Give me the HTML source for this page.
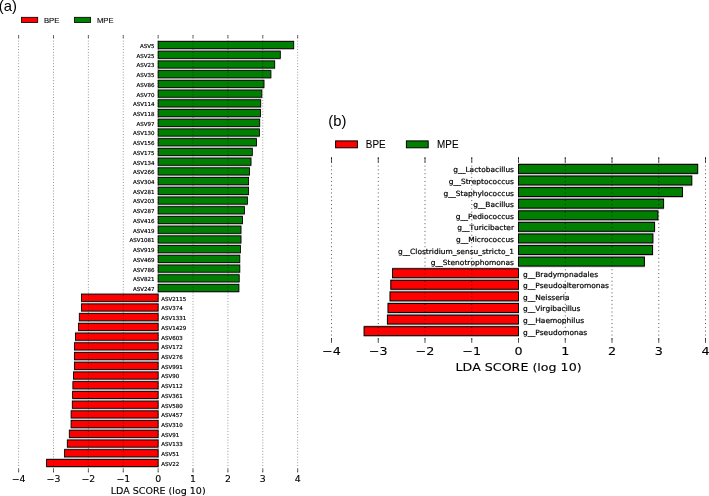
<!DOCTYPE html>
<html lang="en"><head><meta charset="utf-8"><title>LEfSe LDA score plots</title>
<style>
html,body{margin:0;padding:0;background:#fff;}
body{width:709px;height:496px;overflow:hidden;}
svg{display:block;}
text{fill:#000;font-kerning:none !important;font-variant-ligatures:none !important;font-feature-settings:"kern" 0 !important;}
.al{font:5.5px "DejaVu Sans","Liberation Sans",sans-serif;dominant-baseline:central;stroke:#000;stroke-width:0.18px;}
.at{font:8.0px "DejaVu Sans","Liberation Sans",sans-serif;stroke:#000;stroke-width:0.1px;}
.ax{font:8.0px "DejaVu Sans","Liberation Sans",sans-serif;stroke:#000;stroke-width:0.1px;}
.bl{font:7.2px "DejaVu Sans","Liberation Sans",sans-serif;dominant-baseline:central;stroke:#000;stroke-width:0.2px;}
.bt{font:10.9px "DejaVu Sans","Liberation Sans",sans-serif;stroke:#000;stroke-width:0.12px;}
.bx{font:10.9px "DejaVu Sans","Liberation Sans",sans-serif;stroke:#000;stroke-width:0.12px;}
.pl{font:14.8px "Liberation Sans",sans-serif;}
.la{font:7.8px "Liberation Sans",sans-serif;stroke:#000;stroke-width:0.1px;}
.lb{font:10.3px "Liberation Sans",sans-serif;stroke:#000;stroke-width:0.1px;}
</style></head>
<body>
<svg width="709" height="496" viewBox="0 0 709 496">
<rect x="0" y="0" width="709" height="496" fill="#fff"/>
<text x="-1.2" y="10.8" class="pl">(a)</text>
<rect x="21.5" y="17.3" width="16.2" height="5.3" fill="#ff0000" stroke="#000" stroke-width="0.8"/>
<text transform="translate(43.9 22.65) scale(0.99 1)" class="la">BPE</text>
<rect x="74.4" y="17.3" width="16.2" height="5.3" fill="#008000" stroke="#000" stroke-width="0.8"/>
<text transform="translate(96.9 22.65) scale(0.99 1)" class="la">MPE</text>
<rect x="157.75" y="40.19" width="136.35" height="9.72" fill="#cabeca"/>
<rect x="157.75" y="49.91" width="122.95" height="9.72" fill="#cabeca"/>
<rect x="157.75" y="59.63" width="117.35" height="9.72" fill="#cabeca"/>
<rect x="157.75" y="69.35" width="113.55" height="9.72" fill="#cabeca"/>
<rect x="157.75" y="79.07" width="106.65" height="9.72" fill="#cabeca"/>
<rect x="157.75" y="88.79" width="104.45" height="9.72" fill="#cabeca"/>
<rect x="157.75" y="98.51" width="103.35" height="9.72" fill="#cabeca"/>
<rect x="157.75" y="108.23" width="103.15" height="9.72" fill="#cabeca"/>
<rect x="157.75" y="117.95" width="102.35" height="9.72" fill="#cabeca"/>
<rect x="157.75" y="127.67" width="102.05" height="9.72" fill="#cabeca"/>
<rect x="157.75" y="137.39" width="99.15" height="9.72" fill="#cabeca"/>
<rect x="157.75" y="147.11" width="94.95" height="9.72" fill="#cabeca"/>
<rect x="157.75" y="156.83" width="93.65" height="9.72" fill="#cabeca"/>
<rect x="157.75" y="166.55" width="92.15" height="9.72" fill="#cabeca"/>
<rect x="157.75" y="176.27" width="91.25" height="9.72" fill="#cabeca"/>
<rect x="157.75" y="185.99" width="91.25" height="9.72" fill="#cabeca"/>
<rect x="157.75" y="195.71" width="90.05" height="9.72" fill="#cabeca"/>
<rect x="157.75" y="205.43" width="87.05" height="9.72" fill="#cabeca"/>
<rect x="157.75" y="215.15" width="85.15" height="9.72" fill="#cabeca"/>
<rect x="157.75" y="224.87" width="83.65" height="9.72" fill="#cabeca"/>
<rect x="157.75" y="234.59" width="83.65" height="9.72" fill="#cabeca"/>
<rect x="157.75" y="244.31" width="83.05" height="9.72" fill="#cabeca"/>
<rect x="157.75" y="254.03" width="82.45" height="9.72" fill="#cabeca"/>
<rect x="157.75" y="263.75" width="82.45" height="9.72" fill="#cabeca"/>
<rect x="157.75" y="273.47" width="81.85" height="9.72" fill="#cabeca"/>
<rect x="157.75" y="283.19" width="81.55" height="9.72" fill="#cabeca"/>
<rect x="81" y="292.91" width="77.55" height="9.72" fill="#bccccc"/>
<rect x="81" y="302.63" width="77.55" height="9.72" fill="#bccccc"/>
<rect x="78.9" y="312.35" width="79.65" height="9.72" fill="#bccccc"/>
<rect x="78" y="322.07" width="80.55" height="9.72" fill="#bccccc"/>
<rect x="75" y="331.79" width="83.55" height="9.72" fill="#bccccc"/>
<rect x="74" y="341.51" width="84.55" height="9.72" fill="#bccccc"/>
<rect x="74" y="351.23" width="84.55" height="9.72" fill="#bccccc"/>
<rect x="74" y="360.95" width="84.55" height="9.72" fill="#bccccc"/>
<rect x="73.1" y="370.67" width="85.45" height="9.72" fill="#bccccc"/>
<rect x="72.5" y="380.39" width="86.05" height="9.72" fill="#bccccc"/>
<rect x="72.2" y="390.11" width="86.35" height="9.72" fill="#bccccc"/>
<rect x="71.9" y="399.83" width="86.65" height="9.72" fill="#bccccc"/>
<rect x="70.7" y="409.55" width="87.85" height="9.72" fill="#bccccc"/>
<rect x="70.7" y="419.27" width="87.85" height="9.72" fill="#bccccc"/>
<rect x="68.9" y="428.99" width="89.65" height="9.72" fill="#bccccc"/>
<rect x="66.9" y="438.71" width="91.65" height="9.72" fill="#bccccc"/>
<rect x="64.1" y="448.43" width="94.45" height="9.72" fill="#bccccc"/>
<rect x="46.2" y="458.15" width="112.35" height="9.72" fill="#bccccc"/>
<rect x="158.15" y="41.45" width="135.55" height="7.2" fill="#008000" stroke="#000" stroke-width="0.85"/>
<rect x="158.15" y="51.17" width="122.15" height="7.2" fill="#008000" stroke="#000" stroke-width="0.85"/>
<rect x="158.15" y="60.89" width="116.55" height="7.2" fill="#008000" stroke="#000" stroke-width="0.85"/>
<rect x="158.15" y="70.61" width="112.75" height="7.2" fill="#008000" stroke="#000" stroke-width="0.85"/>
<rect x="158.15" y="80.33" width="105.85" height="7.2" fill="#008000" stroke="#000" stroke-width="0.85"/>
<rect x="158.15" y="90.05" width="103.65" height="7.2" fill="#008000" stroke="#000" stroke-width="0.85"/>
<rect x="158.15" y="99.77" width="102.55" height="7.2" fill="#008000" stroke="#000" stroke-width="0.85"/>
<rect x="158.15" y="109.49" width="102.35" height="7.2" fill="#008000" stroke="#000" stroke-width="0.85"/>
<rect x="158.15" y="119.21" width="101.55" height="7.2" fill="#008000" stroke="#000" stroke-width="0.85"/>
<rect x="158.15" y="128.93" width="101.25" height="7.2" fill="#008000" stroke="#000" stroke-width="0.85"/>
<rect x="158.15" y="138.65" width="98.35" height="7.2" fill="#008000" stroke="#000" stroke-width="0.85"/>
<rect x="158.15" y="148.37" width="94.15" height="7.2" fill="#008000" stroke="#000" stroke-width="0.85"/>
<rect x="158.15" y="158.09" width="92.85" height="7.2" fill="#008000" stroke="#000" stroke-width="0.85"/>
<rect x="158.15" y="167.81" width="91.35" height="7.2" fill="#008000" stroke="#000" stroke-width="0.85"/>
<rect x="158.15" y="177.53" width="90.45" height="7.2" fill="#008000" stroke="#000" stroke-width="0.85"/>
<rect x="158.15" y="187.25" width="90.45" height="7.2" fill="#008000" stroke="#000" stroke-width="0.85"/>
<rect x="158.15" y="196.97" width="89.25" height="7.2" fill="#008000" stroke="#000" stroke-width="0.85"/>
<rect x="158.15" y="206.69" width="86.25" height="7.2" fill="#008000" stroke="#000" stroke-width="0.85"/>
<rect x="158.15" y="216.41" width="84.35" height="7.2" fill="#008000" stroke="#000" stroke-width="0.85"/>
<rect x="158.15" y="226.13" width="82.85" height="7.2" fill="#008000" stroke="#000" stroke-width="0.85"/>
<rect x="158.15" y="235.85" width="82.85" height="7.2" fill="#008000" stroke="#000" stroke-width="0.85"/>
<rect x="158.15" y="245.57" width="82.25" height="7.2" fill="#008000" stroke="#000" stroke-width="0.85"/>
<rect x="158.15" y="255.29" width="81.65" height="7.2" fill="#008000" stroke="#000" stroke-width="0.85"/>
<rect x="158.15" y="265.01" width="81.65" height="7.2" fill="#008000" stroke="#000" stroke-width="0.85"/>
<rect x="158.15" y="274.73" width="81.05" height="7.2" fill="#008000" stroke="#000" stroke-width="0.85"/>
<rect x="158.15" y="284.45" width="80.75" height="7.2" fill="#008000" stroke="#000" stroke-width="0.85"/>
<rect x="81.4" y="294.17" width="76.75" height="7.2" fill="#ff0000" stroke="#000" stroke-width="0.85"/>
<rect x="81.4" y="303.89" width="76.75" height="7.2" fill="#ff0000" stroke="#000" stroke-width="0.85"/>
<rect x="79.3" y="313.61" width="78.85" height="7.2" fill="#ff0000" stroke="#000" stroke-width="0.85"/>
<rect x="78.4" y="323.33" width="79.75" height="7.2" fill="#ff0000" stroke="#000" stroke-width="0.85"/>
<rect x="75.4" y="333.05" width="82.75" height="7.2" fill="#ff0000" stroke="#000" stroke-width="0.85"/>
<rect x="74.4" y="342.77" width="83.75" height="7.2" fill="#ff0000" stroke="#000" stroke-width="0.85"/>
<rect x="74.4" y="352.49" width="83.75" height="7.2" fill="#ff0000" stroke="#000" stroke-width="0.85"/>
<rect x="74.4" y="362.21" width="83.75" height="7.2" fill="#ff0000" stroke="#000" stroke-width="0.85"/>
<rect x="73.5" y="371.93" width="84.65" height="7.2" fill="#ff0000" stroke="#000" stroke-width="0.85"/>
<rect x="72.9" y="381.65" width="85.25" height="7.2" fill="#ff0000" stroke="#000" stroke-width="0.85"/>
<rect x="72.6" y="391.37" width="85.55" height="7.2" fill="#ff0000" stroke="#000" stroke-width="0.85"/>
<rect x="72.3" y="401.09" width="85.85" height="7.2" fill="#ff0000" stroke="#000" stroke-width="0.85"/>
<rect x="71.1" y="410.81" width="87.05" height="7.2" fill="#ff0000" stroke="#000" stroke-width="0.85"/>
<rect x="71.1" y="420.53" width="87.05" height="7.2" fill="#ff0000" stroke="#000" stroke-width="0.85"/>
<rect x="69.3" y="430.25" width="88.85" height="7.2" fill="#ff0000" stroke="#000" stroke-width="0.85"/>
<rect x="67.3" y="439.97" width="90.85" height="7.2" fill="#ff0000" stroke="#000" stroke-width="0.85"/>
<rect x="64.5" y="449.69" width="93.65" height="7.2" fill="#ff0000" stroke="#000" stroke-width="0.85"/>
<rect x="46.6" y="459.41" width="111.55" height="7.2" fill="#ff0000" stroke="#000" stroke-width="0.85"/>
<line x1="18.63" y1="35.2" x2="18.63" y2="472.5" stroke="#000" stroke-opacity="0.75" stroke-width="0.6" stroke-dasharray="0.9 1.93" stroke-dashoffset="0.26"/>
<line x1="18.63" y1="35.2" x2="18.63" y2="38.1" stroke="#000" stroke-width="0.6"/>
<line x1="18.63" y1="468.7" x2="18.63" y2="472.5" stroke="#000" stroke-width="0.6"/>
<text transform="translate(18.63 481.85) scale(1.17 1)" text-anchor="middle" class="at">−4</text>
<line x1="53.51" y1="35.2" x2="53.51" y2="472.5" stroke="#000" stroke-opacity="0.75" stroke-width="0.6" stroke-dasharray="0.9 1.93" stroke-dashoffset="0.26"/>
<line x1="53.51" y1="35.2" x2="53.51" y2="38.1" stroke="#000" stroke-width="0.6"/>
<line x1="53.51" y1="468.7" x2="53.51" y2="472.5" stroke="#000" stroke-width="0.6"/>
<text transform="translate(53.51 481.85) scale(1.17 1)" text-anchor="middle" class="at">−3</text>
<line x1="88.39" y1="35.2" x2="88.39" y2="472.5" stroke="#000" stroke-opacity="0.75" stroke-width="0.6" stroke-dasharray="0.9 1.93" stroke-dashoffset="0.26"/>
<line x1="88.39" y1="35.2" x2="88.39" y2="38.1" stroke="#000" stroke-width="0.6"/>
<line x1="88.39" y1="468.7" x2="88.39" y2="472.5" stroke="#000" stroke-width="0.6"/>
<text transform="translate(88.39 481.85) scale(1.17 1)" text-anchor="middle" class="at">−2</text>
<line x1="123.27" y1="35.2" x2="123.27" y2="472.5" stroke="#000" stroke-opacity="0.75" stroke-width="0.6" stroke-dasharray="0.9 1.93" stroke-dashoffset="0.26"/>
<line x1="123.27" y1="35.2" x2="123.27" y2="38.1" stroke="#000" stroke-width="0.6"/>
<line x1="123.27" y1="468.7" x2="123.27" y2="472.5" stroke="#000" stroke-width="0.6"/>
<text transform="translate(123.27 481.85) scale(1.17 1)" text-anchor="middle" class="at">−1</text>
<line x1="158.15" y1="35.2" x2="158.15" y2="472.5" stroke="#000" stroke-opacity="0.75" stroke-width="0.6" stroke-dasharray="0.9 1.93" stroke-dashoffset="0.26"/>
<line x1="158.15" y1="35.2" x2="158.15" y2="38.1" stroke="#000" stroke-width="0.6"/>
<line x1="158.15" y1="468.7" x2="158.15" y2="472.5" stroke="#000" stroke-width="0.6"/>
<text transform="translate(158.15 481.85) scale(1.17 1)" text-anchor="middle" class="at">0</text>
<line x1="193.03" y1="35.2" x2="193.03" y2="472.5" stroke="#000" stroke-opacity="0.75" stroke-width="0.6" stroke-dasharray="0.9 1.93" stroke-dashoffset="0.26"/>
<line x1="193.03" y1="35.2" x2="193.03" y2="38.1" stroke="#000" stroke-width="0.6"/>
<line x1="193.03" y1="468.7" x2="193.03" y2="472.5" stroke="#000" stroke-width="0.6"/>
<text transform="translate(193.03 481.85) scale(1.17 1)" text-anchor="middle" class="at">1</text>
<line x1="227.91" y1="35.2" x2="227.91" y2="472.5" stroke="#000" stroke-opacity="0.75" stroke-width="0.6" stroke-dasharray="0.9 1.93" stroke-dashoffset="0.26"/>
<line x1="227.91" y1="35.2" x2="227.91" y2="38.1" stroke="#000" stroke-width="0.6"/>
<line x1="227.91" y1="468.7" x2="227.91" y2="472.5" stroke="#000" stroke-width="0.6"/>
<text transform="translate(227.91 481.85) scale(1.17 1)" text-anchor="middle" class="at">2</text>
<line x1="262.79" y1="35.2" x2="262.79" y2="472.5" stroke="#000" stroke-opacity="0.75" stroke-width="0.6" stroke-dasharray="0.9 1.93" stroke-dashoffset="0.26"/>
<line x1="262.79" y1="35.2" x2="262.79" y2="38.1" stroke="#000" stroke-width="0.6"/>
<line x1="262.79" y1="468.7" x2="262.79" y2="472.5" stroke="#000" stroke-width="0.6"/>
<text transform="translate(262.79 481.85) scale(1.17 1)" text-anchor="middle" class="at">3</text>
<line x1="297.67" y1="35.2" x2="297.67" y2="472.5" stroke="#000" stroke-opacity="0.75" stroke-width="0.6" stroke-dasharray="0.9 1.93" stroke-dashoffset="0.26"/>
<line x1="297.67" y1="35.2" x2="297.67" y2="38.1" stroke="#000" stroke-width="0.6"/>
<line x1="297.67" y1="468.7" x2="297.67" y2="472.5" stroke="#000" stroke-width="0.6"/>
<text transform="translate(297.67 481.85) scale(1.17 1)" text-anchor="middle" class="at">4</text>
<text transform="translate(154.45 45.95) scale(1.0 1)" text-anchor="end" class="al">ASV5</text>
<text transform="translate(154.45 55.67) scale(1.0 1)" text-anchor="end" class="al">ASV25</text>
<text transform="translate(154.45 65.39) scale(1.0 1)" text-anchor="end" class="al">ASV23</text>
<text transform="translate(154.45 75.11) scale(1.0 1)" text-anchor="end" class="al">ASV35</text>
<text transform="translate(154.45 84.83) scale(1.0 1)" text-anchor="end" class="al">ASV86</text>
<text transform="translate(154.45 94.55) scale(1.0 1)" text-anchor="end" class="al">ASV70</text>
<text transform="translate(154.45 104.27) scale(1.0 1)" text-anchor="end" class="al">ASV114</text>
<text transform="translate(154.45 113.99) scale(1.0 1)" text-anchor="end" class="al">ASV118</text>
<text transform="translate(154.45 123.71) scale(1.0 1)" text-anchor="end" class="al">ASV97</text>
<text transform="translate(154.45 133.43) scale(1.0 1)" text-anchor="end" class="al">ASV130</text>
<text transform="translate(154.45 143.15) scale(1.0 1)" text-anchor="end" class="al">ASV156</text>
<text transform="translate(154.45 152.87) scale(1.0 1)" text-anchor="end" class="al">ASV175</text>
<text transform="translate(154.45 162.59) scale(1.0 1)" text-anchor="end" class="al">ASV134</text>
<text transform="translate(154.45 172.31) scale(1.0 1)" text-anchor="end" class="al">ASV266</text>
<text transform="translate(154.45 182.03) scale(1.0 1)" text-anchor="end" class="al">ASV304</text>
<text transform="translate(154.45 191.75) scale(1.0 1)" text-anchor="end" class="al">ASV281</text>
<text transform="translate(154.45 201.47) scale(1.0 1)" text-anchor="end" class="al">ASV203</text>
<text transform="translate(154.45 211.19) scale(1.0 1)" text-anchor="end" class="al">ASV287</text>
<text transform="translate(154.45 220.91) scale(1.0 1)" text-anchor="end" class="al">ASV416</text>
<text transform="translate(154.45 230.63) scale(1.0 1)" text-anchor="end" class="al">ASV419</text>
<text transform="translate(154.45 240.35) scale(1.0 1)" text-anchor="end" class="al">ASV1081</text>
<text transform="translate(154.45 250.07) scale(1.0 1)" text-anchor="end" class="al">ASV919</text>
<text transform="translate(154.45 259.79) scale(1.0 1)" text-anchor="end" class="al">ASV469</text>
<text transform="translate(154.45 269.51) scale(1.0 1)" text-anchor="end" class="al">ASV786</text>
<text transform="translate(154.45 279.23) scale(1.0 1)" text-anchor="end" class="al">ASV821</text>
<text transform="translate(154.45 288.95) scale(1.0 1)" text-anchor="end" class="al">ASV247</text>
<text transform="translate(161.2 298.67) scale(1.0 1)" text-anchor="start" class="al">ASV2115</text>
<text transform="translate(161.2 308.39) scale(1.0 1)" text-anchor="start" class="al">ASV374</text>
<text transform="translate(161.2 318.11) scale(1.0 1)" text-anchor="start" class="al">ASV1331</text>
<text transform="translate(161.2 327.83) scale(1.0 1)" text-anchor="start" class="al">ASV1429</text>
<text transform="translate(161.2 337.55) scale(1.0 1)" text-anchor="start" class="al">ASV603</text>
<text transform="translate(161.2 347.27) scale(1.0 1)" text-anchor="start" class="al">ASV172</text>
<text transform="translate(161.2 356.99) scale(1.0 1)" text-anchor="start" class="al">ASV276</text>
<text transform="translate(161.2 366.71) scale(1.0 1)" text-anchor="start" class="al">ASV991</text>
<text transform="translate(161.2 376.43) scale(1.0 1)" text-anchor="start" class="al">ASV90</text>
<text transform="translate(161.2 386.15) scale(1.0 1)" text-anchor="start" class="al">ASV112</text>
<text transform="translate(161.2 395.87) scale(1.0 1)" text-anchor="start" class="al">ASV361</text>
<text transform="translate(161.2 405.59) scale(1.0 1)" text-anchor="start" class="al">ASV580</text>
<text transform="translate(161.2 415.31) scale(1.0 1)" text-anchor="start" class="al">ASV457</text>
<text transform="translate(161.2 425.03) scale(1.0 1)" text-anchor="start" class="al">ASV310</text>
<text transform="translate(161.2 434.75) scale(1.0 1)" text-anchor="start" class="al">ASV91</text>
<text transform="translate(161.2 444.47) scale(1.0 1)" text-anchor="start" class="al">ASV133</text>
<text transform="translate(161.2 454.19) scale(1.0 1)" text-anchor="start" class="al">ASV51</text>
<text transform="translate(161.2 463.91) scale(1.0 1)" text-anchor="start" class="al">ASV22</text>
<text transform="translate(158.15 493.7) scale(1.19 1)" text-anchor="middle" class="ax">LDA SCORE (log 10)</text>
<text x="328.3" y="126.3" class="pl">(b)</text>
<rect x="335.6" y="140.9" width="21.8" height="6.9" fill="#ff0000" stroke="#000" stroke-width="1.0"/>
<text transform="translate(365.8 147.55) scale(0.96 1)" class="lb">BPE</text>
<rect x="406.4" y="140.9" width="21.8" height="6.9" fill="#008000" stroke="#000" stroke-width="1.0"/>
<text transform="translate(437.1 147.55) scale(0.96 1)" class="lb">MPE</text>
<rect x="518.1" y="163.11" width="180" height="11.59" fill="#cabeca"/>
<rect x="518.1" y="174.7" width="174.1" height="11.59" fill="#cabeca"/>
<rect x="518.1" y="186.29" width="164.8" height="11.59" fill="#cabeca"/>
<rect x="518.1" y="197.88" width="145.9" height="11.59" fill="#cabeca"/>
<rect x="518.1" y="209.47" width="140.2" height="11.59" fill="#cabeca"/>
<rect x="518.1" y="221.06" width="136.9" height="11.59" fill="#cabeca"/>
<rect x="518.1" y="232.65" width="135.2" height="11.59" fill="#cabeca"/>
<rect x="518.1" y="244.24" width="134.9" height="11.59" fill="#cabeca"/>
<rect x="518.1" y="255.83" width="126.7" height="11.59" fill="#cabeca"/>
<rect x="392.1" y="267.42" width="126.8" height="11.59" fill="#bccccc"/>
<rect x="390.4" y="279" width="128.5" height="11.59" fill="#bccccc"/>
<rect x="389.6" y="290.59" width="129.3" height="11.59" fill="#bccccc"/>
<rect x="387.6" y="302.19" width="131.3" height="11.59" fill="#bccccc"/>
<rect x="387" y="313.77" width="131.9" height="11.59" fill="#bccccc"/>
<rect x="363.7" y="325.36" width="155.2" height="11.59" fill="#bccccc"/>
<rect x="518.5" y="164.45" width="179.2" height="8.9" fill="#008000" stroke="#000" stroke-width="1.0"/>
<rect x="518.5" y="176.04" width="173.3" height="8.9" fill="#008000" stroke="#000" stroke-width="1.0"/>
<rect x="518.5" y="187.63" width="164" height="8.9" fill="#008000" stroke="#000" stroke-width="1.0"/>
<rect x="518.5" y="199.22" width="145.1" height="8.9" fill="#008000" stroke="#000" stroke-width="1.0"/>
<rect x="518.5" y="210.81" width="139.4" height="8.9" fill="#008000" stroke="#000" stroke-width="1.0"/>
<rect x="518.5" y="222.4" width="136.1" height="8.9" fill="#008000" stroke="#000" stroke-width="1.0"/>
<rect x="518.5" y="233.99" width="134.4" height="8.9" fill="#008000" stroke="#000" stroke-width="1.0"/>
<rect x="518.5" y="245.58" width="134.1" height="8.9" fill="#008000" stroke="#000" stroke-width="1.0"/>
<rect x="518.5" y="257.17" width="125.9" height="8.9" fill="#008000" stroke="#000" stroke-width="1.0"/>
<rect x="392.5" y="268.76" width="126" height="8.9" fill="#ff0000" stroke="#000" stroke-width="1.0"/>
<rect x="390.8" y="280.35" width="127.7" height="8.9" fill="#ff0000" stroke="#000" stroke-width="1.0"/>
<rect x="390" y="291.94" width="128.5" height="8.9" fill="#ff0000" stroke="#000" stroke-width="1.0"/>
<rect x="388" y="303.53" width="130.5" height="8.9" fill="#ff0000" stroke="#000" stroke-width="1.0"/>
<rect x="387.4" y="315.12" width="131.1" height="8.9" fill="#ff0000" stroke="#000" stroke-width="1.0"/>
<rect x="364.1" y="326.71" width="154.4" height="8.9" fill="#ff0000" stroke="#000" stroke-width="1.0"/>
<line x1="331.5" y1="157" x2="331.5" y2="342.6" stroke="#000" stroke-opacity="0.95" stroke-width="0.7" stroke-dasharray="1 2.84" stroke-dashoffset="2.94"/>
<line x1="331.5" y1="157" x2="331.5" y2="162.5" stroke="#000" stroke-width="0.7"/>
<line x1="331.5" y1="338.1" x2="331.5" y2="342.6" stroke="#000" stroke-width="0.7"/>
<text transform="translate(331.5 355.3) scale(1.17 1)" text-anchor="middle" class="bt">−4</text>
<line x1="378.25" y1="157" x2="378.25" y2="342.6" stroke="#000" stroke-opacity="0.95" stroke-width="0.7" stroke-dasharray="1 2.84" stroke-dashoffset="2.94"/>
<line x1="378.25" y1="157" x2="378.25" y2="162.5" stroke="#000" stroke-width="0.7"/>
<line x1="378.25" y1="338.1" x2="378.25" y2="342.6" stroke="#000" stroke-width="0.7"/>
<text transform="translate(378.25 355.3) scale(1.17 1)" text-anchor="middle" class="bt">−3</text>
<line x1="425" y1="157" x2="425" y2="342.6" stroke="#000" stroke-opacity="0.95" stroke-width="0.7" stroke-dasharray="1 2.84" stroke-dashoffset="2.94"/>
<line x1="425" y1="157" x2="425" y2="162.5" stroke="#000" stroke-width="0.7"/>
<line x1="425" y1="338.1" x2="425" y2="342.6" stroke="#000" stroke-width="0.7"/>
<text transform="translate(425 355.3) scale(1.17 1)" text-anchor="middle" class="bt">−2</text>
<line x1="471.75" y1="157" x2="471.75" y2="342.6" stroke="#000" stroke-opacity="0.95" stroke-width="0.7" stroke-dasharray="1 2.84" stroke-dashoffset="2.94"/>
<line x1="471.75" y1="157" x2="471.75" y2="162.5" stroke="#000" stroke-width="0.7"/>
<line x1="471.75" y1="338.1" x2="471.75" y2="342.6" stroke="#000" stroke-width="0.7"/>
<text transform="translate(471.75 355.3) scale(1.17 1)" text-anchor="middle" class="bt">−1</text>
<line x1="518.5" y1="157" x2="518.5" y2="342.6" stroke="#000" stroke-opacity="0.95" stroke-width="0.7" stroke-dasharray="1 2.84" stroke-dashoffset="2.94"/>
<line x1="518.5" y1="157" x2="518.5" y2="162.5" stroke="#000" stroke-width="0.7"/>
<line x1="518.5" y1="338.1" x2="518.5" y2="342.6" stroke="#000" stroke-width="0.7"/>
<text transform="translate(518.5 355.3) scale(1.17 1)" text-anchor="middle" class="bt">0</text>
<line x1="565.25" y1="157" x2="565.25" y2="342.6" stroke="#000" stroke-opacity="0.95" stroke-width="0.7" stroke-dasharray="1 2.84" stroke-dashoffset="2.94"/>
<line x1="565.25" y1="157" x2="565.25" y2="162.5" stroke="#000" stroke-width="0.7"/>
<line x1="565.25" y1="338.1" x2="565.25" y2="342.6" stroke="#000" stroke-width="0.7"/>
<text transform="translate(565.25 355.3) scale(1.17 1)" text-anchor="middle" class="bt">1</text>
<line x1="612" y1="157" x2="612" y2="342.6" stroke="#000" stroke-opacity="0.95" stroke-width="0.7" stroke-dasharray="1 2.84" stroke-dashoffset="2.94"/>
<line x1="612" y1="157" x2="612" y2="162.5" stroke="#000" stroke-width="0.7"/>
<line x1="612" y1="338.1" x2="612" y2="342.6" stroke="#000" stroke-width="0.7"/>
<text transform="translate(612 355.3) scale(1.17 1)" text-anchor="middle" class="bt">2</text>
<line x1="658.75" y1="157" x2="658.75" y2="342.6" stroke="#000" stroke-opacity="0.95" stroke-width="0.7" stroke-dasharray="1 2.84" stroke-dashoffset="2.94"/>
<line x1="658.75" y1="157" x2="658.75" y2="162.5" stroke="#000" stroke-width="0.7"/>
<line x1="658.75" y1="338.1" x2="658.75" y2="342.6" stroke="#000" stroke-width="0.7"/>
<text transform="translate(658.75 355.3) scale(1.17 1)" text-anchor="middle" class="bt">3</text>
<line x1="705.5" y1="157" x2="705.5" y2="342.6" stroke="#000" stroke-opacity="0.95" stroke-width="0.7" stroke-dasharray="1 2.84" stroke-dashoffset="2.94"/>
<line x1="705.5" y1="157" x2="705.5" y2="162.5" stroke="#000" stroke-width="0.7"/>
<line x1="705.5" y1="338.1" x2="705.5" y2="342.6" stroke="#000" stroke-width="0.7"/>
<text transform="translate(705.5 355.3) scale(1.17 1)" text-anchor="middle" class="bt">4</text>
<text transform="translate(514 169.95) scale(1.037 1)" text-anchor="end" class="bl">g__Lactobacillus</text>
<text transform="translate(514 181.54) scale(1.037 1)" text-anchor="end" class="bl">g__Streptococcus</text>
<text transform="translate(514 193.13) scale(1.037 1)" text-anchor="end" class="bl">g__Staphylococcus</text>
<text transform="translate(514 204.72) scale(1.037 1)" text-anchor="end" class="bl">g__Bacillus</text>
<text transform="translate(514 216.31) scale(1.037 1)" text-anchor="end" class="bl">g__Pediococcus</text>
<text transform="translate(514 227.9) scale(1.037 1)" text-anchor="end" class="bl">g__Turicibacter</text>
<text transform="translate(514 239.49) scale(1.037 1)" text-anchor="end" class="bl">g__Micrococcus</text>
<text transform="translate(514 251.08) scale(1.037 1)" text-anchor="end" class="bl">g__Clostridium_sensu_stricto_1</text>
<text transform="translate(514 262.67) scale(1.037 1)" text-anchor="end" class="bl">g__Stenotrophomonas</text>
<text transform="translate(523 274.26) scale(1.037 1)" text-anchor="start" class="bl">g__Bradymonadales</text>
<text transform="translate(523 285.85) scale(1.037 1)" text-anchor="start" class="bl">g__Pseudoalteromonas</text>
<text transform="translate(523 297.44) scale(1.037 1)" text-anchor="start" class="bl">g__Neisseria</text>
<text transform="translate(523 309.03) scale(1.037 1)" text-anchor="start" class="bl">g__Virgibacillus</text>
<text transform="translate(523 320.62) scale(1.037 1)" text-anchor="start" class="bl">g__Haemophilus</text>
<text transform="translate(523 332.21) scale(1.037 1)" text-anchor="start" class="bl">g__Pseudomonas</text>
<text transform="translate(518.5 371.3) scale(1.16 1)" text-anchor="middle" class="bx">LDA SCORE (log 10)</text>
</svg>
</body></html>
